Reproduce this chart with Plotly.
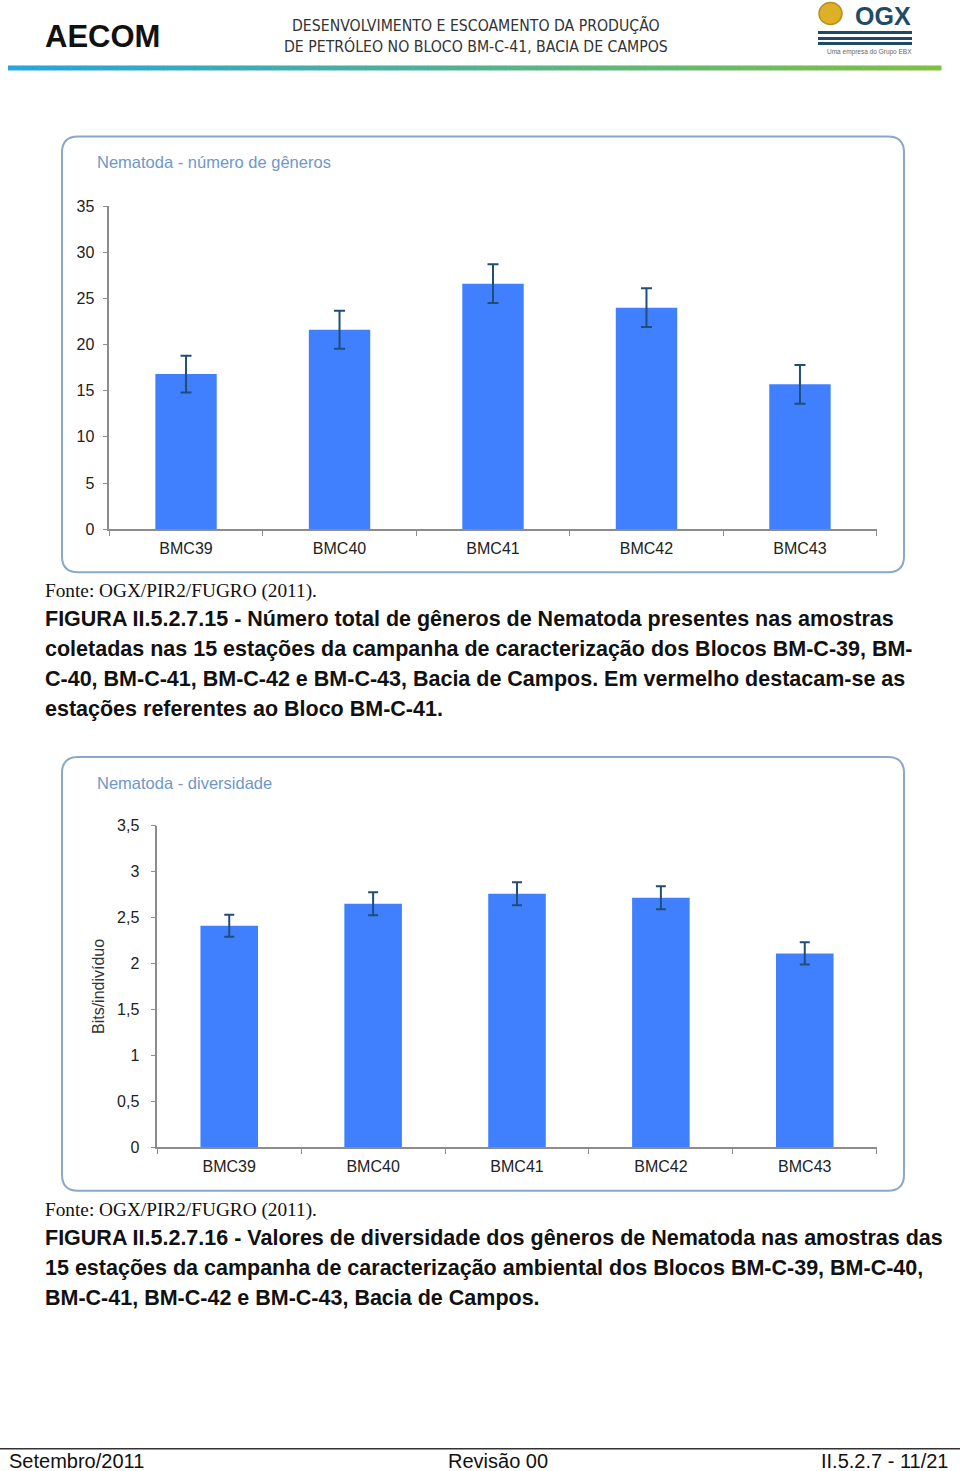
import plotly.graph_objects as go

# ── Data ──────────────────────────────────────────────────────────────
STATIONS = ["BMC39", "BMC40", "BMC41", "BMC42", "BMC43"]

GENERA_MEAN = [16.8, 21.6, 26.6, 24.0, 15.7]
GENERA_ERR = [2.0, 2.05, 2.1, 2.1, 2.1]

DIVERSITY_MEAN = [2.41, 2.65, 2.76, 2.715, 2.11]
DIVERSITY_ERR = [0.12, 0.125, 0.125, 0.125, 0.12]

GENERA_TICKS = [0, 5, 10, 15, 20, 25, 30, 35]
DIVERSITY_TICKS = [0, 0.5, 1, 1.5, 2, 2.5, 3, 3.5]

# ── Style ─────────────────────────────────────────────────────────────
W, H = 960, 1471
BAR_COLOR = "#4080FF"
ERR_COLOR = "#1F4E79"
AXIS_COLOR = "#8C8C8C"
FRAME_COLOR = "#8AA8C8"
TITLE_COLOR = "#6E97CC"
SANS = "Liberation Sans, Arial, sans-serif"
COND = "DejaVu Sans Condensed, Liberation Sans Narrow, Arial Narrow, sans-serif"
SERIF = "Liberation Serif, Times New Roman, serif"

# the page snapshot comes out slightly squeezed vertically; pre-correct for it
Y_SHIFT, Y_SCALE = 7.5, 0.989


def px(x):
    return x / W


def py(y):
    return 1 - ((y - Y_SHIFT) / Y_SCALE) / H


def rounded_rect(x0, y0, x1, y1, r):
    return (
        f"M {px(x0 + r)},{py(y0)} L {px(x1 - r)},{py(y0)} "
        f"Q {px(x1)},{py(y0)} {px(x1)},{py(y0 + r)} "
        f"L {px(x1)},{py(y1 - r)} Q {px(x1)},{py(y1)} {px(x1 - r)},{py(y1)} "
        f"L {px(x0 + r)},{py(y1)} Q {px(x0)},{py(y1)} {px(x0)},{py(y1 - r)} "
        f"L {px(x0)},{py(y0 + r)} Q {px(x0)},{py(y0)} {px(x0 + r)},{py(y0)} Z"
    )


fig = go.Figure()

fig.add_trace(
    go.Bar(
        x=STATIONS, y=GENERA_MEAN, width=0.4,
        marker=dict(color=BAR_COLOR, line=dict(width=0)),
        error_y=dict(type="data", array=GENERA_ERR, color=ERR_COLOR, thickness=2, width=5.5),
        xaxis="x", yaxis="y", showlegend=False,
    )
)
fig.add_trace(
    go.Bar(
        x=STATIONS, y=DIVERSITY_MEAN, width=0.4,
        marker=dict(color=BAR_COLOR, line=dict(width=0)),
        error_y=dict(type="data", array=DIVERSITY_ERR, color=ERR_COLOR, thickness=2, width=5),
        xaxis="x2", yaxis="y2", showlegend=False,
    )
)

common_x = dict(
    type="category", showline=True, linecolor=AXIS_COLOR, linewidth=1.5,
    ticks="outside", tickson="boundaries", ticklen=5, tickcolor=AXIS_COLOR,
    tickfont=dict(family=SANS, size=16, color="#222"), showgrid=False, zeroline=False,
    ticklabelstandoff=4,
)
common_y = dict(
    showline=True, linecolor=AXIS_COLOR, linewidth=1.5, ticks="outside", ticklen=5,
    tickcolor=AXIS_COLOR, tickfont=dict(family=SANS, size=16, color="#222"),
    showgrid=False, zeroline=False,
)

fig.update_layout(
    width=W, height=H,
    margin=dict(l=0, r=0, t=0, b=0),
    paper_bgcolor="white", plot_bgcolor="white",
    separators=",.",
    bargap=0.6,
    xaxis=dict(domain=[px(109.3), px(876.7)], anchor="y", **common_x),
    yaxis=dict(domain=[py(529), py(205.7)], anchor="x", range=[0, 35],
               tickvals=GENERA_TICKS, ticklabelstandoff=5, **common_y),
    xaxis2=dict(domain=[px(157.3), px(876.7)], anchor="y2", **common_x),
    yaxis2=dict(domain=[py(1147.3), py(825.7)], anchor="x2", range=[0, 3.5],
                tickvals=DIVERSITY_TICKS, ticklabelstandoff=8,
                title=dict(text="Bits/indivíduo", font=dict(family=SANS, size=16, color="#333"),
                           standoff=8),
                **common_y),
)

shapes = []
# chart frames
for (y0, y1) in [(136, 572), (757, 1191)]:
    shapes.append(dict(type="path", xref="paper", yref="paper",
                       path=rounded_rect(62, y0, 904, y1, 16),
                       line=dict(color=FRAME_COLOR, width=2), fillcolor="rgba(0,0,0,0)"))

# header gradient bar (blue -> green)
n_seg = 60
x_start, x_end = 8, 941
c0, c1 = (38, 166, 222), (126, 194, 66)
for i in range(n_seg):
    t = i / (n_seg - 1)
    col = tuple(int(c0[k] + (c1[k] - c0[k]) * t) for k in range(3))
    xa = x_start + (x_end - x_start) * i / n_seg
    xb = x_start + (x_end - x_start) * (i + 1) / n_seg + 0.5
    shapes.append(dict(type="rect", xref="paper", yref="paper",
                       x0=px(xa), x1=px(xb), y0=py(70), y1=py(65),
                       line=dict(width=0), fillcolor=f"rgb{col}"))

# OGX logo pieces
shapes.append(dict(type="circle", xref="paper", yref="paper",
                   x0=px(819), x1=px(842), y0=py(24), y1=py(2),
                   line=dict(color="#B8901A", width=1.5), fillcolor="#DDB028"))
for yy in [32, 38, 43]:
    shapes.append(dict(type="line", xref="paper", yref="paper",
                       x0=px(818), x1=px(912), y0=py(yy), y1=py(yy),
                       line=dict(color="#1F4B68", width=3)))

# footer rule
shapes.append(dict(type="line", xref="paper", yref="paper",
                   x0=0, x1=1, y0=py(1449), y1=py(1449),
                   line=dict(color="#333", width=1.5)))

fig.update_layout(shapes=shapes)


def text(x, y, s, size, family=SANS, color="#111", xanchor="left", bold=False):
    fig.add_annotation(
        x=px(x), y=py(y), xref="paper", yref="paper",
        text=f"<b>{s}</b>" if bold else s, showarrow=False,
        xanchor=xanchor, yanchor="middle",
        font=dict(family=family, size=size, color=color),
    )


# header
text(43, 36, "AECOM", 31, family=SANS, color="#111", bold=True)
text(476, 25, "DESENVOLVIMENTO E ESCOAMENTO DA PRODUÇÃO", 15.7, family=COND,
     color="#333", xanchor="center")
text(476, 46, "DE PETRÓLEO NO BLOCO BM-C-41, BACIA DE CAMPOS", 15.7, family=COND,
     color="#333", xanchor="center")
text(913, 15.5, "OGX", 25, family=SANS, color="#1F4B68", xanchor="right", bold=True)
text(869, 52, "Uma empresa do Grupo EBX", 6.5, color="#666", xanchor="center")

# chart titles
text(95, 162, "Nematoda - número de gêneros", 16.5, color=TITLE_COLOR)
text(95, 783, "Nematoda - diversidade", 16.5, color=TITLE_COLOR)

# captions
text(43, 591, "Fonte: OGX/PIR2/FUGRO (2011).", 19.3, family=SERIF)
cap1 = [
    "FIGURA II.5.2.7.15 - Número total de gêneros de Nematoda presentes nas amostras",
    "coletadas nas 15 estações da campanha de caracterização dos Blocos BM-C-39, BM-",
    "C-40, BM-C-41, BM-C-42 e BM-C-43, Bacia de Campos. Em vermelho destacam-se as",
    "estações referentes ao Bloco BM-C-41.",
]
for i, line in enumerate(cap1):
    text(43, 619 + 30 * i, line, 21.5, bold=True)

text(43, 1210, "Fonte: OGX/PIR2/FUGRO (2011).", 19.3, family=SERIF)
cap2 = [
    "FIGURA II.5.2.7.16 - Valores de diversidade dos gêneros de Nematoda nas amostras das",
    "15 estações da campanha de caracterização ambiental dos Blocos BM-C-39, BM-C-40,",
    "BM-C-41, BM-C-42 e BM-C-43, Bacia de Campos.",
]
for i, line in enumerate(cap2):
    text(43, 1238 + 30 * i, line, 21.5, bold=True)

# footer
text(7, 1461, "Setembro/2011", 20, family=SANS)
text(498, 1461, "Revisão 00", 20, family=SANS, xanchor="center")
text(951, 1461, "II.5.2.7 - 11/21", 20, family=SANS, xanchor="right")

fig.write_html(
    "out.html",
    config={"displayModeBar": False},
    post_script=(
        "var d = document.getElementById('{plot_id}');"
        "d.style.position = 'absolute'; d.style.top = '0px'; d.style.left = '0px';"
        "document.body.style.margin = '0px';"
    ),
)
